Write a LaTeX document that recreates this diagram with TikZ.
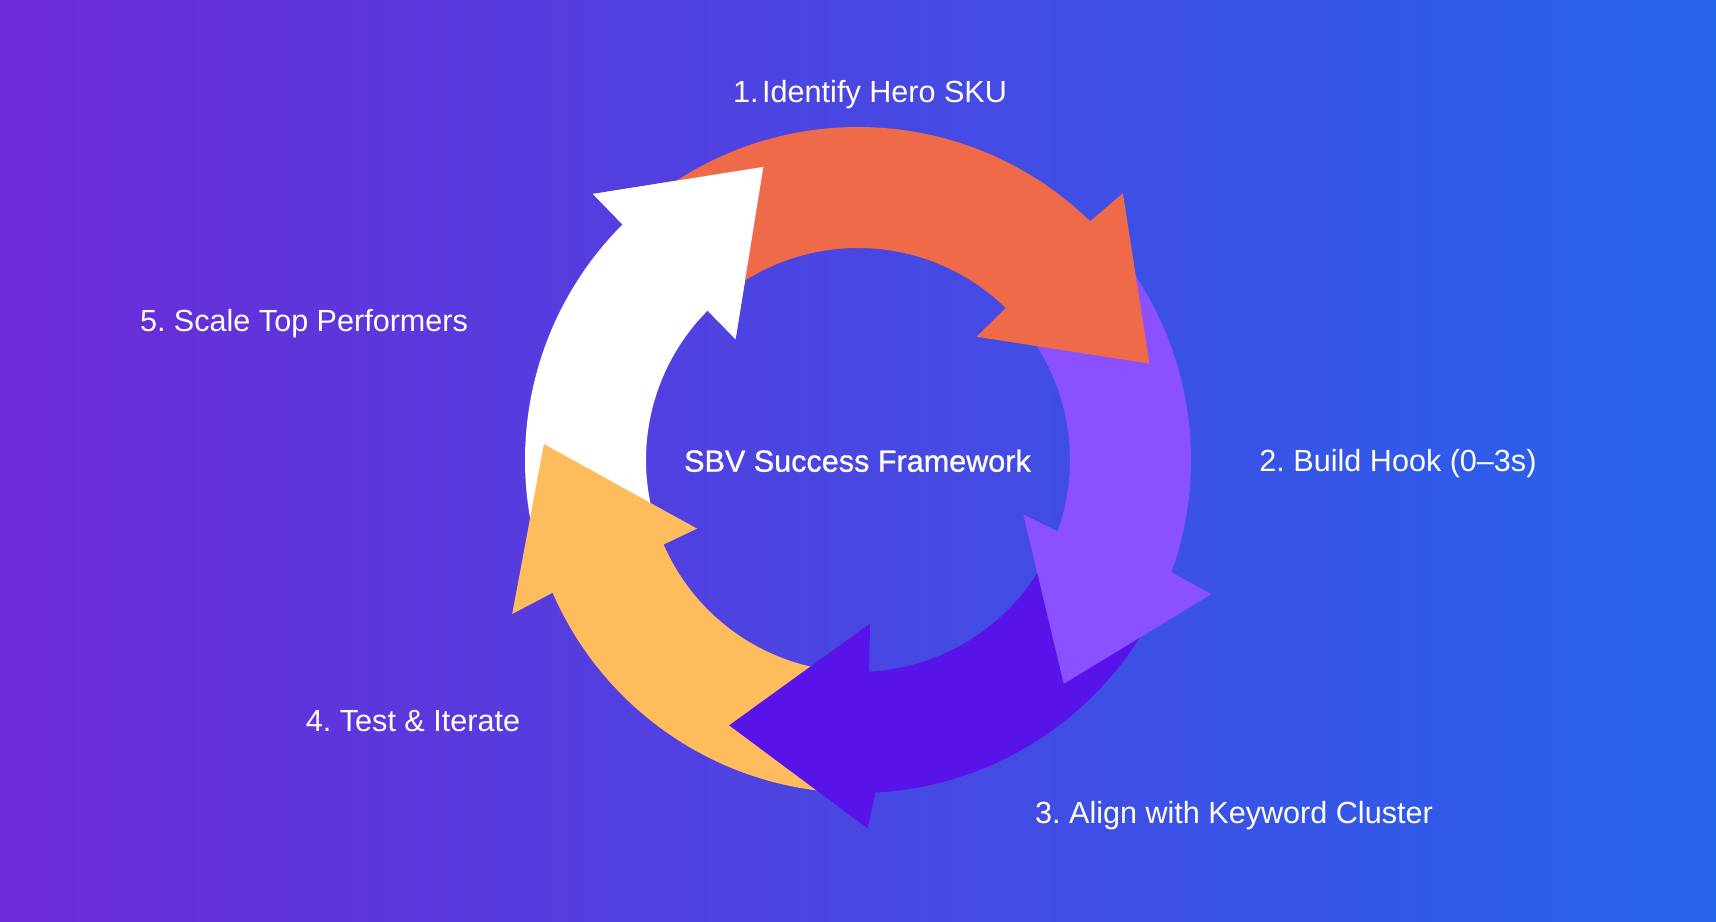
\documentclass[tikz,border=0pt]{standalone}
\usepackage{fontspec}
\setmainfont{Liberation Sans}
\newfontfamily\titlefont[FakeBold=0.8]{Liberation Sans}
\usetikzlibrary{positioning}

\definecolor{bgleft}{RGB}{108,42,216}
\definecolor{bgright}{RGB}{37,99,235}
\definecolor{heroorange}{RGB}{239,106,72}
\definecolor{hookviolet}{RGB}{139,80,255}
\definecolor{clusterindigo}{RGB}{88,20,232}
\definecolor{testyellow}{RGB}{254,188,92}

\begin{document}
\begin{tikzpicture}[
	steptext/.style={text=white, font=\frenchspacing\fontsize{8.7}{10}\selectfont, inner sep=0pt, anchor=base},
	titletext/.style={steptext, font=\frenchspacing\titlefont\fontsize{8.7}{10}\selectfont},
]
	% Background
	\shade[left color=bgleft, right color=bgright] (0,0) rectangle (17.16,9.22);
	\useasboundingbox (0,0) rectangle (17.16,9.22);

	\begin{scope}[shift={(8.58,4.62)}]
		% Arrows, band and head in one piece (drawn last to first)
		\fill[white] (203.5:3.33) arc[start angle=203.5, end angle=135, radius=3.33] -- (134.9:3.755) -- (107.9:3.08) -- (135.4:1.72) -- (135:2.12) arc[start angle=135, end angle=203.5, radius=2.12] -- cycle;
		\fill[testyellow] (-87:3.33) arc[start angle=-87, end angle=-156.5, radius=3.33] -- (204:3.785) -- (177.1:3.145) -- (203.1:1.75) -- (-156.5:2.12) arc[start angle=-156.5, end angle=-87, radius=2.12] -- cycle;
		\fill[clusterindigo] (-19.7:3.33) arc[start angle=-19.7, end angle=-87, radius=3.33] -- (-88.5:3.686) -- (-115.9:2.95) -- (-85.8:1.64) -- (-87:2.12) arc[start angle=-87, end angle=-19.7, radius=2.12] -- cycle;
		\fill[hookviolet] (45.8:3.33) arc[start angle=45.8, end angle=-19.7, radius=3.33] -- (-20.8:3.78) -- (-47.4:3.04) -- (-18.2:1.74) -- (-19.7:2.12) arc[start angle=-19.7, end angle=45.8, radius=2.12] -- cycle;
		\fill[heroorange] (133:3.33) arc[start angle=133, end angle=45.8, radius=3.33] -- (45.2:3.76) -- (18.3:3.07) -- (46.1:1.71) -- (45.8:2.12) arc[start angle=45.8, end angle=133, radius=2.12] -- cycle;

		% White head again, over the orange tail
		\fill[white] (134.9:3.755) -- (107.9:3.08) -- (135.4:1.72) -- cycle;
	\end{scope}

	% Title
	\node[titletext] (title) at (8.575,4.503) {SBV Success Framework};

	% Step labels
	\node[steptext] (idsku) at (8.70,8.193) {1.\kern0.12em Identify Hero SKU};
	\node[steptext] (hook) at (13.98,4.503) {2. Build Hook (0--3s)};
	\node[steptext] (cluster) at (12.34,0.987) {3. Align with Keyword Cluster};
	\node[steptext] (iterate) at (4.13,1.903) {4. Test \& Iterate};
	\node[steptext] (scale) at (3.04,5.903) {5. Scale Top Performers};
\end{tikzpicture}
\end{document}
